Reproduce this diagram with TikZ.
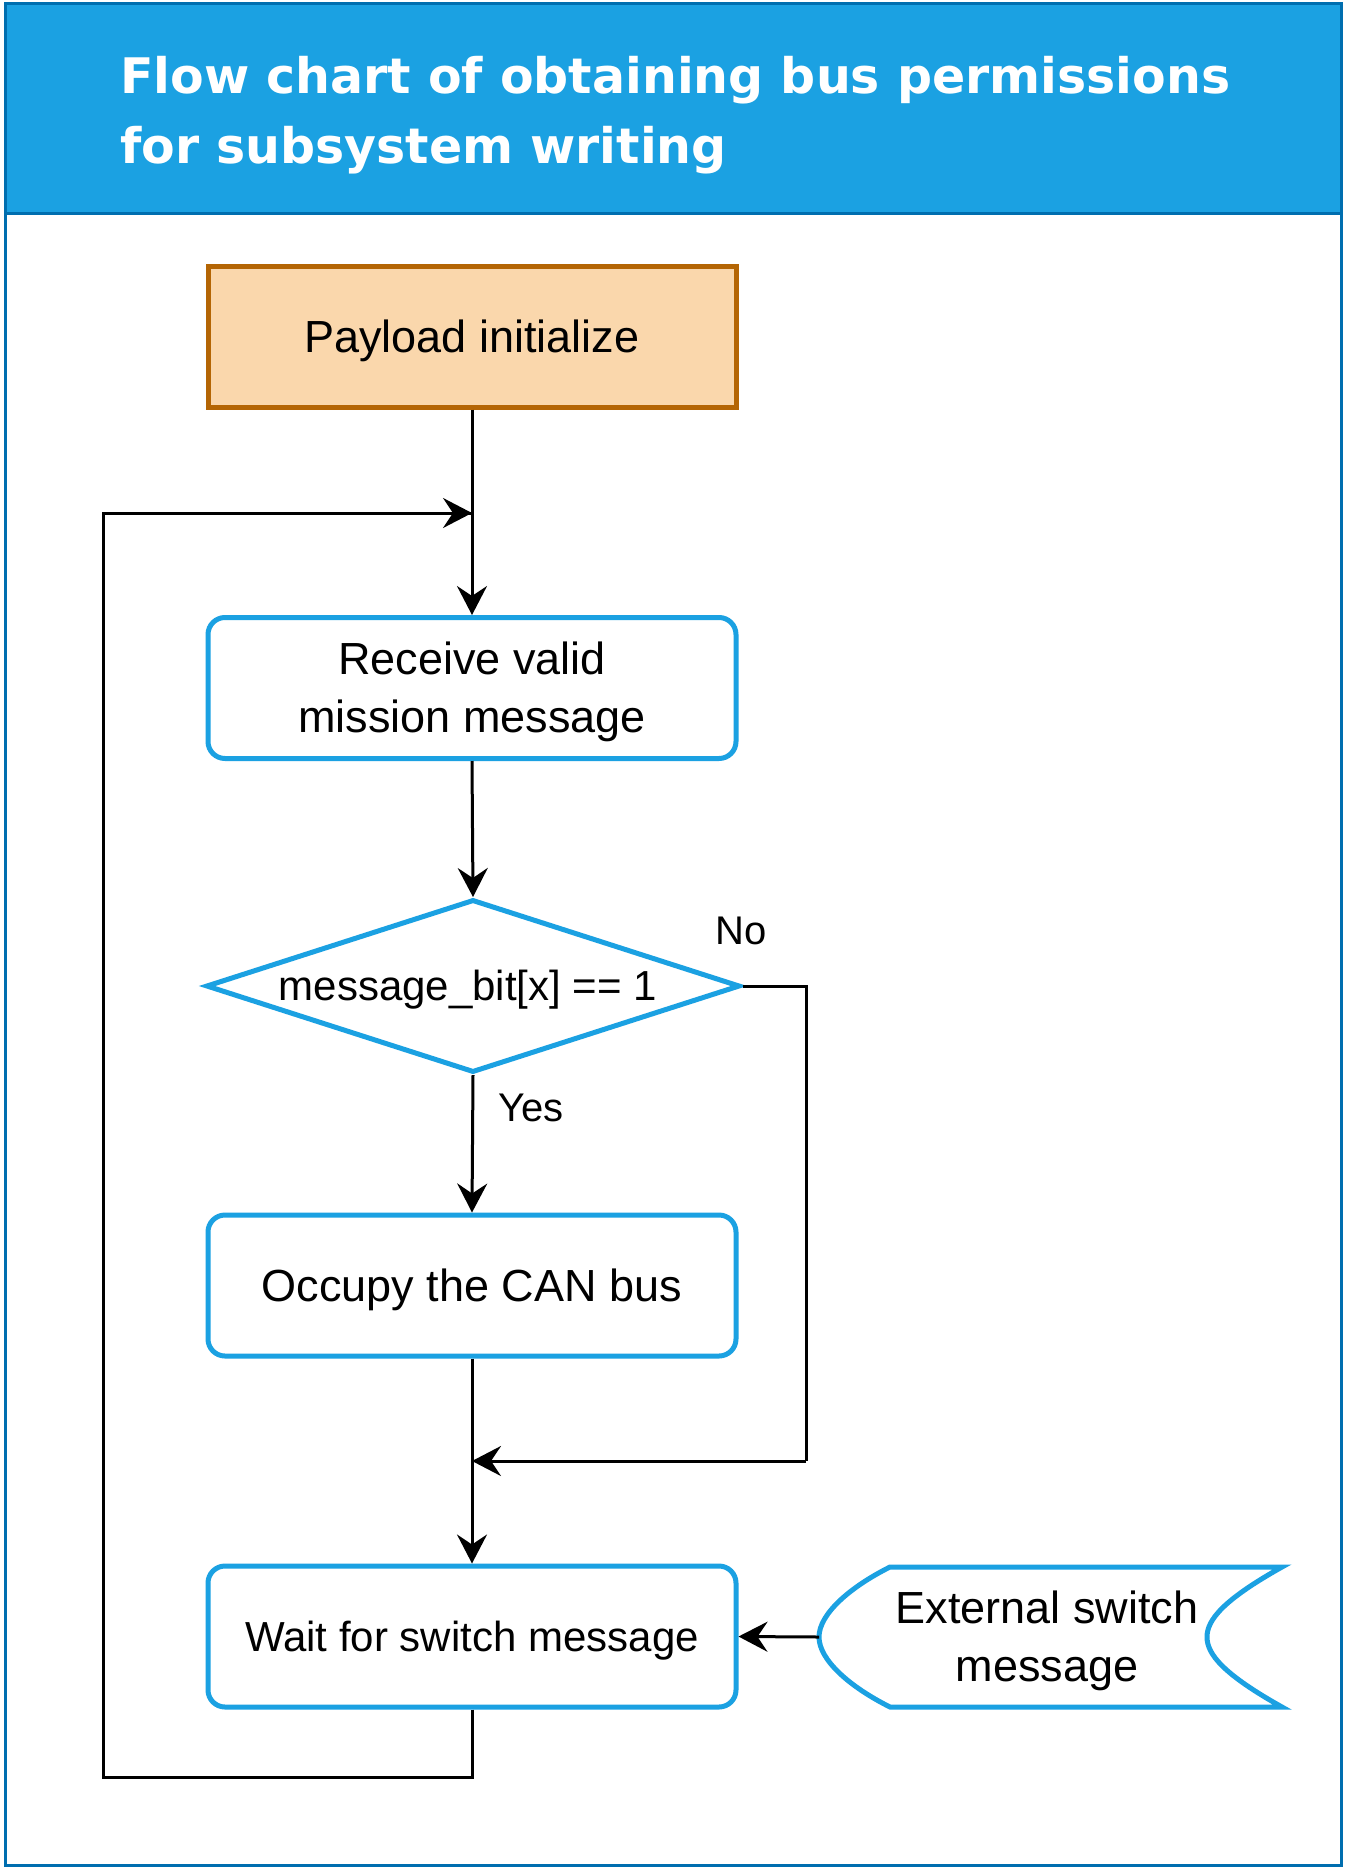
\documentclass[tikz,border=0pt]{standalone}
\usepackage{fontspec}
\setmainfont{Liberation Sans}
\newfontfamily\titlefont{DejaVu Sans}
\usetikzlibrary{arrows.meta,shapes.geometric}
\definecolor{hdrblue}{HTML}{1BA1E2}
\definecolor{frameblue}{HTML}{006EAF}
\definecolor{boxblue}{HTML}{1BA1E2}
\definecolor{orfill}{HTML}{FAD7AC}
\definecolor{orline}{HTML}{B46504}
\newcommand{\lowtxt}[1]{\raisebox{-4pt}[\height][\depth]{#1}}
\newcommand{\twolines}[2]{\raisebox{-4pt}[\height][\depth]{\def\arraystretch{1.02}\begin{tabular}{@{}c@{}}#1\\#2\end{tabular}}}
\tikzset{
  procbox/.style={draw=boxblue, line width=5pt, rounded corners=17pt, fill=white,
    minimum width=528pt, minimum height=141pt, inner sep=0pt, align=center},
  startbox/.style={draw=orline, fill=orfill, line width=5pt,
    minimum width=528pt, minimum height=141pt, inner sep=0pt, align=center},
  decbox/.style={draw=boxblue, line width=5pt, diamond, fill=white,
    minimum width=534pt, minimum height=173pt, inner sep=0pt},
  conn/.style={line width=3pt, black, -{Stealth[length=29pt,width=30pt,inset=10pt]}},
  plainconn/.style={line width=3pt, black},
  bigtxt/.style={font=\fontsize{45}{57}\selectfont},
  midtxt/.style={font=\fontsize{42}{52}\selectfont},
  lbltxt/.style={font=\fontsize{40}{48}\selectfont, inner sep=0pt},
  titletxt/.style={anchor=base west, inner sep=0pt, text=white, font=\titlefont\bfseries\fontsize{49}{62}\selectfont},
}
\begin{document}
\begin{tikzpicture}[x=1pt,y=-1pt]
\useasboundingbox (0,0) rectangle (1347,1874);
% frame and header
\fill[white] (5,3) rectangle (1341,1865);
\fill[hdrblue] (5,3) rectangle (1341,213);
\draw[frameblue, line width=3pt] (5,213) -- (1341,213);
\draw[frameblue, line width=3pt] (5,3) rectangle (1341,1865);
\node[titletxt] (title1) at (120,93) {Flow chart of obtaining bus permissions};
\node[titletxt] (title2) at (120,163) {for subsystem writing};

% nodes
\node[startbox, bigtxt] (init) at (472,336.5) {\lowtxt{Payload initialize}};
\node[procbox, bigtxt] (recv) at (472,688) {\twolines{Receive valid}{mission message}};
\node[decbox, midtxt] (dec) at (473,986) {};
\node[midtxt, inner sep=0pt] (dectxt) at (468,986) {\lowtxt{message\_bit[x] == 1}};
\node[procbox, bigtxt] (occ) at (472,1285.5) {\lowtxt{Occupy the CAN bus}};
\node[procbox, midtxt] (wait) at (472,1636.5) {\lowtxt{Wait for switch message}};

% external switch message shape
\draw[boxblue, line width=5pt, fill=white]
  (890,1567) -- (1282,1567)
  .. controls (1223,1600) and (1207,1620) .. (1207,1637)
  .. controls (1207,1654) and (1223,1674) .. (1282,1707)
  -- (890,1707)
  .. controls (850,1687) and (819,1660) .. (819,1637)
  .. controls (819,1614) and (850,1587) .. (890,1567) -- cycle;
\node[bigtxt, inner sep=0pt] (ext) at (1047,1637) {\twolines{External switch}{message}};
\coordinate (extL) at (819,1637);

% junction coordinates
\coordinate (j1) at (472,513);
\coordinate (j2) at (472,1461);
\coordinate (loopA) at (472,1777);
\coordinate (loopB) at (103,1777);
\coordinate (loopC) at (103,513);
\coordinate (noA) at (806,986);
\coordinate (noB) at (806,1461);

% connectors
\draw[conn] (init.south) -- (recv.north);
\draw[conn] (recv.south) -- (dec.north);
\draw[conn] (dec.south) -- (occ.north);
\draw[conn] (occ.south) -- (wait.north);
\draw[plainconn] (wait.south) -- (loopA) -- (loopB) -- (loopC) -- (j1);
\draw[conn] (loopC) -- (j1);
\draw[plainconn] (dec.east) -- (noA) -- (noB);
\draw[conn] (noB) -- (j2);
\draw[conn] (extL) -- (wait.east);

% labels
\node[lbltxt] (yes) at (531,1108) {Yes};
\node[lbltxt] (no) at (741,931) {No};
\end{tikzpicture}
\end{document}
